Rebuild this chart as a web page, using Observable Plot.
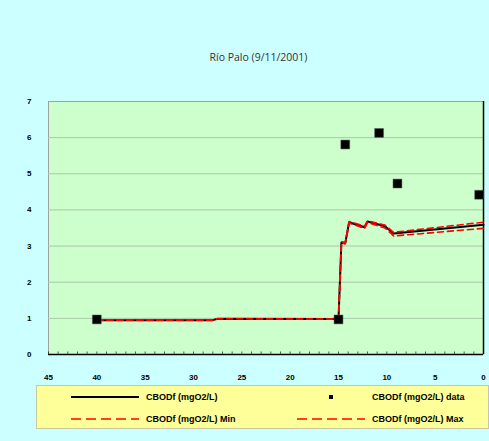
<!DOCTYPE html>
<html><head><meta charset="utf-8">
<script src="https://cdn.jsdelivr.net/npm/d3@7"></script>
<script src="https://cdn.jsdelivr.net/npm/@observablehq/plot@0.6"></script>
<style>
body{margin:0;background:#CCFFFF;width:489px;height:441px;overflow:hidden;position:relative;font-family:"Liberation Sans",Arial,sans-serif;}
#title{position:absolute;left:0;width:517px;top:50px;text-align:center;font-size:10.5px;color:#333;font-family:"Open Sans","Liberation Sans",sans-serif;}
#chart{position:absolute;left:0;top:0;}
#legend{position:absolute;left:36px;top:385px;width:453px;height:44px;background:#FFFF99;border:1px solid #c8c8a0;box-sizing:border-box;}
#legend svg{position:absolute;left:0;top:0;}
</style></head><body>
<div id="title">Río Palo (9/11/2001)</div>
<div id="chart"></div>
<div id="legend"></div>
<script>
const seriesNames = ["CBODf (mgO2/L)", "CBODf (mgO2/L) data", "CBODf (mgO2/L) Min", "CBODf (mgO2/L) Max"];
const distModel = [40, 28, 27.5, 15.5, 15, 14.7, 14.3, 13.9, 12.3, 12.0, 10.2, 9.3, 0];
const cbodModel = [0.95, 0.95, 0.99, 0.98, 0.98, 3.10, 3.08, 3.66, 3.52, 3.68, 3.55, 3.35, 3.59];
const cbodMin   = [0.95, 0.95, 0.99, 0.98, 0.98, 3.08, 3.06, 3.64, 3.49, 3.65, 3.50, 3.28, 3.49];
const cbodMax   = [0.95, 0.95, 0.99, 0.98, 0.98, 3.12, 3.10, 3.68, 3.55, 3.70, 3.58, 3.38, 3.66];
const distData = [40, 15, 14.3, 10.8, 8.9, 0.45];
const cbodData = [0.97, 0.97, 5.81, 6.13, 4.73, 4.42];
const xTicks = [45, 40, 35, 30, 25, 20, 15, 10, 5, 0];
const yTicks = [0, 1, 2, 3, 4, 5, 6, 7];

const model = distModel.map((d, i) => ({x: d, y: cbodModel[i]}));
const minS = distModel.map((d, i) => ({x: d, y: cbodMin[i]}));
const maxS = distModel.map((d, i) => ({x: d, y: cbodMax[i]}));
const data = distData.map((d, i) => ({x: d, y: cbodData[i]}));

const plot = Plot.plot({
  width: 489, height: 441,
  marginLeft: 48, marginRight: 6, marginTop: 101, marginBottom: 87,
  style: {background: "transparent", fontFamily: "Liberation Sans, Arial, sans-serif", fontSize: "8px", fontWeight: "bold", color: "#000"},
  x: {domain: [0, 45], reverse: true, ticks: xTicks, tickSize: 0, tickPadding: 20, tickFormat: d => String(d), label: null},
  y: {domain: [0, 7], ticks: yTicks, tickSize: 0, tickPadding: 17, tickFormat: d => String(d), label: null},
  marks: [
    Plot.frame({fill: "#CCFFCC", stroke: "#a0a0a0"}),
    Plot.ruleY(yTicks.slice(1, -1), {stroke: "#a8c8a8", strokeWidth: 1}),
    Plot.ruleX(d3.range(0, 46), {y1: 0, y2: 0.07, stroke: "#000", strokeWidth: 0.6}),
    Plot.ruleY([0], {stroke: "#000", strokeWidth: 1.5}),
    Plot.ruleX([0], {stroke: "#000", strokeWidth: 1.5}),
    Plot.line(model, {x: "x", y: "y", stroke: "#000", strokeWidth: 2}),
    Plot.line(minS, {x: "x", y: "y", stroke: "#ff0000", strokeWidth: 1.6, strokeDasharray: "6,4"}),
    Plot.line(maxS, {x: "x", y: "y", stroke: "#ff0000", strokeWidth: 1.6, strokeDasharray: "6,4"}),
    Plot.dot(data, {x: "x", y: "y", symbol: "square", r: 5, fill: "#000", stroke: "#555", strokeWidth: 0.5})
  ]
});
document.getElementById("chart").appendChild(plot);

// legend
const L = d3.select("#legend").append("svg").attr("width", 453).attr("height", 44)
  .style("font-family", "Liberation Sans, Arial, sans-serif").style("font-size", "9px").style("font-weight", "bold");
const ox = 36, oy = 385;
const items = [
  {name: seriesNames[0], type: "line", x1: 70, x2: 138, tx: 145, y: 396},
  {name: seriesNames[1], type: "dot", cx: 330, tx: 371, y: 396},
  {name: seriesNames[2], type: "dash", x1: 70, x2: 138, tx: 145, y: 418},
  {name: seriesNames[3], type: "dash", x1: 296, x2: 364, tx: 371, y: 418}
];
for (const it of items) {
  if (it.type === "line") L.append("line").attr("x1", it.x1 - ox).attr("x2", it.x2 - ox).attr("y1", it.y - oy).attr("y2", it.y - oy).attr("stroke", "#000").attr("stroke-width", 2);
  if (it.type === "dash") L.append("line").attr("x1", it.x1 - ox).attr("x2", it.x2 - ox).attr("y1", it.y - oy).attr("y2", it.y - oy).attr("stroke", "#ff0000").attr("stroke-width", 1.6).attr("stroke-dasharray", "10,5");
  if (it.type === "dot") L.append("rect").attr("x", it.cx - ox - 2).attr("y", it.y - oy - 2).attr("width", 4).attr("height", 4).attr("fill", "#000");
  L.append("text").attr("x", it.tx - ox).attr("y", it.y - oy).attr("dy", "0.35em").text(it.name);
}
</script>
</body></html>
